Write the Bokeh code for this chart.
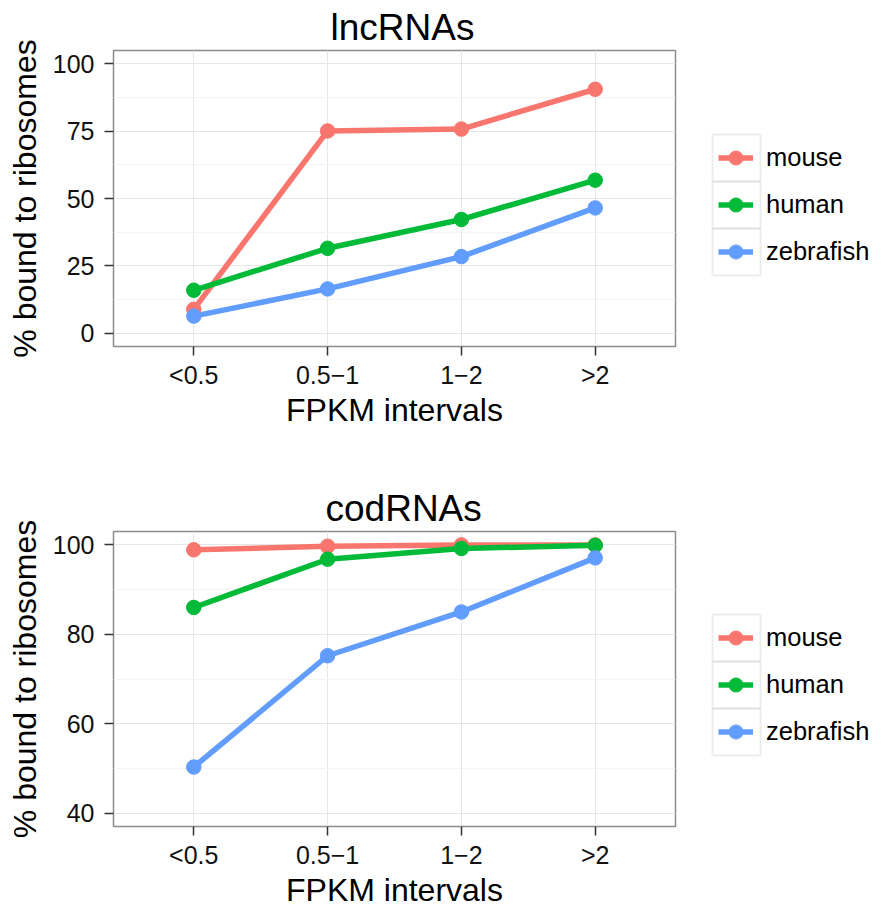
from bokeh.plotting import figure
from bokeh.models import (FactorRange, Range1d, FixedTicker, Legend, LegendItem,
                          BoxAnnotation, ColumnDataSource)
from bokeh.layouts import column, row
from bokeh.embed import file_html
from bokeh.resources import INLINE

# ---------------- data ----------------
intervals = ["<0.5", "0.5\u22121", "1\u22122", ">2"]
species = ["mouse", "human", "zebrafish"]
colors = ["#F8766D", "#00BA38", "#619CFF"]

lnc_mouse = [8.8, 75.1, 75.8, 90.6]
lnc_human = [15.9, 31.5, 42.2, 56.8]
lnc_zebrafish = [6.3, 16.4, 28.4, 46.5]

cod_mouse = [98.9, 99.7, 100.0, 100.0]
cod_human = [86.0, 96.8, 99.2, 99.9]
cod_zebrafish = [50.3, 75.2, 85.0, 97.1]

lnc_yticks = [0, 25, 50, 75, 100]
lnc_yminor = [12.5, 37.5, 62.5, 87.5]
cod_yticks = [40, 60, 80, 100]
cod_yminor = [50, 70, 90]

# ---------------- style ----------------
FONT = "Liberation Sans"
W = 881
FRAME_L = 113
FRAME_W = 562
MAIN_W = FRAME_L + FRAME_W + 10
LEG_W = W - MAIN_W
KEY_X = 27       # key box left inside legend figure
KEY_W = 48
KEY_H = 47
KEY_INSET = 6
LEG_BOTTOM = 71  # legend bottom above frame bottom

LINE_W = 5.5
PT_SIZE = 14.5


def make_panel(title, title_offset, values, y_start, y_end, yticks, yminor,
               height, frame_top, frame_h):
    p = figure(width=MAIN_W, height=height,
               x_range=FactorRange(factors=intervals, range_padding=0.05,
                                   range_padding_units="percent"),
               y_range=Range1d(y_start, y_end),
               output_backend="svg", toolbar_location=None,
               min_border_left=FRAME_L, min_border_right=MAIN_W - FRAME_L - FRAME_W,
               min_border_top=frame_top, min_border_bottom=height - frame_top - frame_h,
               background_fill_color="white", border_fill_color="white")
    p.title.text = title
    p.title.align = "left"
    p.title.offset = title_offset
    p.title.text_font = FONT
    p.title.text_font_size = "37px"
    p.title.text_font_style = "normal"
    p.title.text_color = "black"
    p.title.standoff = 5

    p.outline_line_color = "#8C8C8C"
    p.outline_line_width = 1.5

    p.yaxis.ticker = FixedTicker(ticks=yticks, minor_ticks=yminor)
    p.xgrid.grid_line_color = "#E6E6E6"
    p.ygrid.grid_line_color = "#E6E6E6"
    p.ygrid.minor_grid_line_color = "#F3F3F3"

    for ax in (p.xaxis[0], p.yaxis[0]):
        ax.axis_line_color = None
        ax.minor_tick_line_color = None
        ax.major_tick_line_color = "#333333"
        ax.major_tick_line_width = 1.5
        ax.major_tick_out = 9
        ax.major_tick_in = 0
        ax.major_label_text_font = FONT
        ax.major_label_text_font_size = "25px"
        ax.major_label_text_color = "#111111"
        ax.axis_label_text_font = FONT
        ax.axis_label_text_font_size = "32px"
        ax.axis_label_text_font_style = "normal"
        ax.axis_label_text_color = "black"
    p.xaxis.axis_label = "FPKM intervals"
    p.xaxis.major_label_standoff = 5
    p.xaxis.axis_label_standoff = 0
    p.yaxis.axis_label = "% bound to ribosomes"
    p.yaxis.major_label_standoff = 10
    p.yaxis.axis_label_standoff = 7

    sources = [ColumnDataSource(dict(x=intervals, y=v)) for v in values]
    for s, c in zip(sources, colors):
        p.line("x", "y", source=s, line_color=c, line_width=LINE_W)
    for s, c in zip(sources, colors):
        p.scatter("x", "y", source=s, fill_color=c, line_color=c, size=PT_SIZE)

    # ---- legend figure (to the right of the panel; its frame aligns with p's) ----
    q = figure(width=LEG_W, height=height,
               x_range=FactorRange(factors=intervals),
               y_range=Range1d(y_start, y_end),
               output_backend="svg", toolbar_location=None,
               x_axis_location=None, y_axis_location=None,
               min_border=0, min_border_left=0, min_border_right=0,
               min_border_top=0, min_border_bottom=0,
               background_fill_color="white", border_fill_color="white")
    q.outline_line_color = None
    q.xgrid.visible = False
    q.ygrid.visible = False

    items = []
    for name, s, c in zip(species, sources, colors):
        l = q.line("x", "y", source=s, line_color=c, line_width=LINE_W, visible=False)
        m = q.scatter("x", "y", source=s, fill_color=c, line_color=c,
                      size=PT_SIZE, visible=False)
        items.append(LegendItem(label=name, renderers=[l, m]))

    leg = Legend(items=items, location=(KEY_X + KEY_INSET, LEG_BOTTOM),
                 glyph_width=KEY_W - 2 * KEY_INSET - 1, glyph_height=KEY_H,
                 label_standoff=13, spacing=0, padding=0, margin=0,
                 border_line_color=None, background_fill_alpha=0,
                 inactive_fill_alpha=0,
                 label_text_font=FONT, label_text_font_size="25.5px",
                 label_text_color="black", label_height=KEY_H)
    q.add_layout(leg)

    leg_bottom_canvas = frame_top + frame_h - LEG_BOTTOM
    n = len(species)
    for i in range(n):
        top = leg_bottom_canvas - (n - i) * KEY_H
        box = BoxAnnotation(left=KEY_X, right=KEY_X + KEY_W,
                            top=top, bottom=top + KEY_H,
                            left_units="canvas", right_units="canvas",
                            top_units="canvas", bottom_units="canvas",
                            fill_color=None, fill_alpha=0,
                            line_color="#C4C4C4", line_width=2)
        q.add_layout(box)
    return row(p, q, spacing=0)


r1 = make_panel("lncRNAs", 217, [lnc_mouse, lnc_human, lnc_zebrafish], -5, 105,
                lnc_yticks, lnc_yminor, height=456, frame_top=50, frame_h=296)
r2 = make_panel("codRNAs", 212, [cod_mouse, cod_human, cod_zebrafish], 37, 103,
                cod_yticks, cod_yminor, height=457, frame_top=75, frame_h=295)

layout = column(r1, r2, spacing=0)
open("out.html", "w").write(file_html(layout, INLINE))
